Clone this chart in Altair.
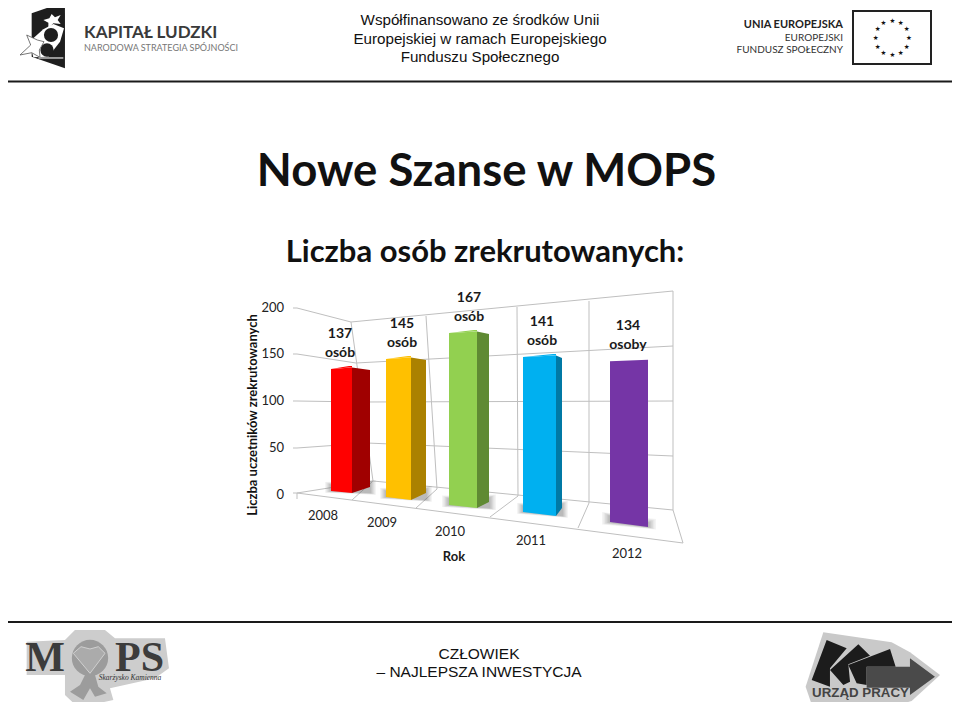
import altair as alt
import pandas as pd

# ---- chart data
years = ["2008", "2009", "2010", "2011", "2012"]
values = [137, 145, 167, 141, 134]
units = ["osób", "osób", "osób", "osób", "osoby"]
front_colors = ["#FF0000", "#FFC000", "#92D050", "#00B0F0", "#7535A6"]
side_colors = ["#A00000", "#AB8100", "#5F8A33", "#0079A5", "#7535A6"]
y_ticks = [0, 50, 100, 150, 200]

# ---- perspective layout of the 3D bars (page pixels, px per unit)
front_left = [331, 386, 449, 523, 610]
front_right = [352, 411, 477, 556, 648]
side_right = [370, 426, 489, 562, 648]
base_left = [491, 497, 505, 512, 522]
base_right = [493, 500, 508, 516, 527]
side_base = [487, 493, 502, 508, 527]
persp = [0.89, 0.952, 1.03, 1.10, 1.20]
year_x = [323, 382, 450, 531, 627]
year_y = [516, 523, 532, 541, 554]
label_x = [340, 402, 469, 542, 628]
label_y = [334, 324, 298, 322, 326]


def yv(py):
    return (494.5 - py) / 0.9335


xs = alt.Scale(domain=[8, 952], range=[0, 944], nice=False, zero=False)
ys = alt.Scale(domain=[yv(702), yv(8)], range=[694, 0], nice=False, zero=False)
X = lambda f="x": alt.X(f"{f}:Q", scale=xs, axis=None)
Y = lambda f="y": alt.Y(f"{f}:Q", scale=ys, axis=None)
layers = []


def seg(points, color="#BFBFBF", width=1.0):
    df = pd.DataFrame({"x": [p[0] for p in points], "y": [yv(p[1]) for p in points], "o": range(len(points))})
    layers.append(alt.Chart(df).mark_line(color=color, strokeWidth=width, interpolate="linear").encode(X(), Y(), order="o:Q"))


def txt(s, x, y, size, font="Lato", weight="normal", color="#000000", align="center", **kw):
    df = pd.DataFrame({"x": [x], "y": [yv(y)], "t": [s]})
    layers.append(alt.Chart(df).mark_text(font=font, fontSize=size, fontWeight=weight, color=color, align=align, baseline="middle", **kw).encode(X(), Y(), text="t:N"))


def poly(points, fill, opacity=1.0, stroke=None, sw=0):
    ax, ay = points[0]
    path = "M0 0 " + " ".join(f"L{p[0]-ax:.1f} {p[1]-ay:.1f}" for p in points[1:]) + " Z"
    df = pd.DataFrame({"x": [ax], "y": [yv(ay)]})
    kw = dict(stroke=stroke, strokeWidth=sw) if stroke else dict(strokeWidth=0)
    layers.append(alt.Chart(df).mark_point(shape=path, size=4, filled=True, fill=fill, fillOpacity=opacity, opacity=1, **kw).encode(X(), Y()))


def zpoly(x0, y0, pts, fill, **kw):
    poly([(x0 + a / 3, y0 + b / 3) for a, b in pts], fill, **kw)


def dot(x, y, r, fill):
    df = pd.DataFrame({"x": [x], "y": [yv(y)]})
    layers.append(alt.Chart(df).mark_point(shape="circle", size=3.1416 * r * r, filled=True, fill=fill, opacity=1, strokeWidth=0).encode(X(), Y()))


# ---- header / footer rules
seg([(0, 81.5), (960, 81.5)], "#1A1A1A", 2)
seg([(0, 622), (960, 622)], "#1A1A1A", 2)

# ---- grid
left_wall = {200: (297, 308, 351, 322, 673, 291), 150: (297, 354, 356, 363, 673, 346),
             100: (297, 401, 362, 402, 673, 401), 50: (297, 448, 367, 443, 673, 456),
             0: (297, 493, 373, 481, 673, 510)}
for k, (a, b, c, d, e, f) in left_wall.items():
    seg([(a - 4, b), (a, b), (c, d), (e, f)])
for pts in [[(351, 322), (373, 481)], [(426, 316), (437, 489)], [(517, 307), (518, 496)],
            [(589, 301), (589, 503)], [(673, 291), (673, 510), (683, 543)],
            [(297, 493), (683, 543)], [(352, 500), (373, 481)], [(416, 508), (437, 489)],
            [(490, 517), (518, 496)], [(578, 528), (589, 503)], [(297, 493), (297, 499)]]:
    seg(pts)

# ---- bar shadows
shadow_spread = [6, 6, 7, 6, 8]
for spread, op in ((1.0, 0.07), (0.8, 0.09), (0.6, 0.11), (0.4, 0.13), (0.2, 0.15)):
    rows = []
    for i in range(5):
        g = spread * shadow_spread[i]
        rows += [dict(b=i, x=front_left[i] - g, y=yv(base_left[i] - 6 - g * 0.5), y2=yv(base_left[i] + g * 0.3)),
                 dict(b=i, x=side_right[i] + g, y=yv(side_base[i] - 4 - g * 0.5), y2=yv(base_right[i] + g * 0.3))]
    layers.append(alt.Chart(pd.DataFrame(rows)).mark_area(color="#666666", opacity=op, interpolate="linear", orient="vertical")
                  .encode(X(), Y(), y2="y2:Q", detail="b:N"))

# ---- 3D bars, heights driven by the values
rows = []
for i, v in enumerate(values):
    tl = base_left[i] - v * persp[i]
    tr = tl - 1.5
    sr = tr + 2.5
    rows += [dict(f=f"{i}f", c=front_colors[i], x=front_left[i], y=yv(tl), y2=yv(base_left[i])),
             dict(f=f"{i}f", c=front_colors[i], x=front_right[i], y=yv(tr), y2=yv(base_right[i]))]
    if side_right[i] > front_right[i]:
        rows += [dict(f=f"{i}s", c=side_colors[i], x=front_right[i], y=yv(tr), y2=yv(base_right[i])),
                 dict(f=f"{i}s", c=side_colors[i], x=side_right[i], y=yv(sr), y2=yv(side_base[i]))]
        rows += [dict(f=f"{i}t", c=front_colors[i], x=front_left[i], y=yv(tl), y2=yv(tl)),
                 dict(f=f"{i}t", c=front_colors[i], x=front_right[i] - 3, y=yv(tr - 1.5), y2=yv(tr)),
                 dict(f=f"{i}t", c=front_colors[i], x=front_right[i], y=yv(tr - 1.5), y2=yv(tr))]
bars = pd.DataFrame(rows)
for key in ("f", "s", "t"):
    sub = bars[bars["f"].str.endswith(key)]
    layers.append(alt.Chart(sub).mark_area(interpolate="linear", orient="vertical", opacity=1)
                  .encode(X(), Y(), y2="y2:Q", detail="f:N", color=alt.Color("c:N", scale=None)))

# ---- value labels and years
for i, v in enumerate(values):
    txt(str(v), label_x[i], label_y[i], 14, weight="bold", color="#1A1A1A")
    txt(units[i], label_x[i], label_y[i] + 19, 14, weight="bold", color="#1A1A1A")
    txt(years[i], year_x[i], year_y[i], 13, color="#222222")
for t in y_ticks:
    df = pd.DataFrame({"x": [284], "y": [t], "t": [str(t)]})
    layers.append(alt.Chart(df).mark_text(font="Lato", fontSize=13, color="#222222", align="right", baseline="middle").encode(X(), Y(), text="t:N"))
txt("Rok", 454, 557, 13, weight="bold", color="#1A1A1A")
txt("Liczba uczetników zrekrutowanych", 253, 415, 13, weight="bold", angle=270, color="#111111")

# ---- titles
txt("Nowe Szanse w MOPS", 486.5, 172, 45.5, weight="bold", color="#111111")
txt("Liczba osób zrekrutowanych:", 485, 253, 31, weight="bold", color="#111111")

# ---- header
for s, y in (("Współfinansowano ze środków Unii", 20), ("Europejskiej w ramach Europejskiego", 39), ("Funduszu Społecznego", 57)):
    txt(s, 480, y, 15.2, font="Liberation Sans", color="#111111")
txt("CZŁOWIEK", 479, 654, 15.5, font="Liberation Sans", color="#111111")
txt("– NAJLEPSZA INWESTYCJA", 479, 672, 15.5, font="Liberation Sans", color="#111111")

# ---- Kapitał Ludzki logo
K = (10, 0)
zpoly(*K, [(65, 40), (165, 5), (165, 205), (65, 170)], "#1E1E1E")
zpoly(*K, [(100, 88), (130, 72), (162, 85), (150, 125), (115, 170), (70, 172), (58, 125)], "#FFFFFF")
dot(51, 35, 8, "#1E1E1E")
dot(47, 50, 7.5, "#1E1E1E")
zpoly(*K, [(125, 42), (135, 52), (152, 45), (143, 60), (152, 72), (130, 70), (115, 85), (115, 68), (100, 60), (118, 55)], "#FFFFFF")
zpoly(*K, [(30, 165), (62, 135), (50, 105), (82, 120), (102, 125), (88, 150), (90, 172), (65, 158)], "#FFFFFF", stroke="#555555", sw=0.8)
zpoly(*K, [(85, 172), (160, 172), (160, 176), (85, 176)], "#D8D8D8")
txt("KAPITAŁ LUDZKI", 84, 33, 17, font="Lato", weight="bold", color="#3A3A3A", align="left")
txt("NARODOWA STRATEGIA SPÓJNOŚCI", 84, 48, 9, font="Lato", color="#777777", align="left")

# ---- EU logo
flag = pd.DataFrame({"x": [853], "x2": [931], "y": [yv(11)], "y2": [yv(64)]})
layers.append(alt.Chart(flag).mark_rect(fill="#FFFFFF", stroke="#222222", strokeWidth=2).encode(X(), x2="x2:Q", y=Y(), y2="y2:Q"))
txt("UNIA EUROPEJSKA", 843, 25, 11, weight="bold", color="#222222", align="right")
txt("EUROPEJSKI", 843, 38, 10, color="#333333", align="right")
txt("FUNDUSZ SPOŁECZNY", 843, 50, 10, color="#333333", align="right")
for a, b in [(487, 48), (512, 55), (530, 72), (537, 98), (530, 125), (512, 143), (487, 150), (460, 143), (443, 125), (437, 98), (443, 72), (460, 55)]:
    txt("★", 730 + a / 3, 5 + b / 3, 6.5, font="DejaVu Sans", color="#111111")

# ---- MOPS logo
M = (15, 625)
zpoly(*M, [(35, 50), (150, 45), (180, 15), (270, 15), (300, 40), (450, 40), (462, 130), (420, 160), (285, 190), (295, 225), (190, 248), (150, 210), (150, 150), (35, 150)], "#CDCDCD")
dot(90, 658, 20.5, "#9C9C9C")
zpoly(*M, [(210, 150), (240, 150), (250, 185), (275, 205), (240, 215), (225, 190), (205, 225), (165, 200), (195, 180)], "#9C9C9C")
zpoly(*M, [(225, 72), (250, 65), (270, 85), (225, 145), (175, 85), (198, 65)], "#ABABAB", stroke="#D0D0D0", sw=1)
txt("M", 45, 658, 42, font="Liberation Serif", weight="bold", color="#3C3C3C")
txt("PS", 139.5, 658, 42, font="Liberation Serif", weight="bold", color="#3C3C3C")
txt("Skarżysko Kamienna", 130, 678, 7.5, font="Liberation Serif", color="#333333", fontStyle="italic")

# ---- Urząd Pracy logo
U = (795, 625)
zpoly(*U, [(85, 22), (290, 52), (345, 82), (435, 150), (350, 228), (300, 242), (50, 238), (32, 185)], "#C9C9C9")
zpoly(*U, [(95, 45), (155, 70), (105, 130), (105, 185), (50, 165)], "#1C1C1C")
zpoly(*U, [(190, 58), (225, 92), (160, 118), (165, 170), (145, 180), (105, 135)], "#1C1C1C")
zpoly(*U, [(160, 120), (285, 72), (302, 125), (215, 125), (215, 180), (185, 175)], "#1C1C1C")
zpoly(*U, [(215, 125), (345, 125), (345, 100), (420, 155), (345, 210), (345, 188), (215, 188)], "#4A4A4A")
txt("URZĄD PRACY", 860.5, 693, 13.3, font="Liberation Sans", weight="bold", color="#444444")

chart = alt.layer(*layers).resolve_scale(color="independent").properties(
    width=944, height=694, padding=0, autosize=alt.AutoSizeParams(type="none")
).configure_view(stroke=None)
chart.save("out.html", embed_options={"renderer": "svg", "actions": False})
